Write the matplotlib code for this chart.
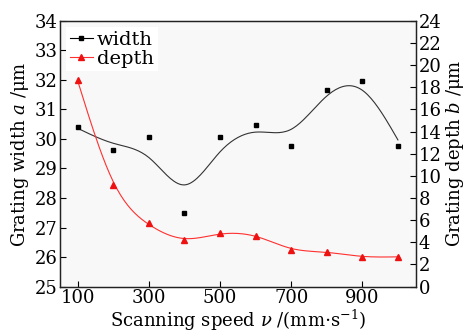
import numpy as np
import matplotlib
matplotlib.use("Agg")
from matplotlib import pyplot as plt

# data
speed = [100, 200, 300, 400, 500, 600, 700, 800, 900, 1000]
width = [30.4, 29.62, 30.05, 27.5, 30.05, 30.48, 29.75, 31.65, 31.97, 29.75]
depth = [18.7, 9.2, 5.75, 4.25, 4.8, 4.6, 3.35, 3.15, 2.7, 2.7]

plt.rcParams['font.family'] = ['DejaVu Serif']
plt.rcParams['mathtext.fontset'] = 'dejavuserif'


def smooth_curve(x, y, lam, step=5):
    # penalized least squares on a fine grid (discrete smoothing spline)
    x = np.asarray(x, float)
    y = np.asarray(y, float)
    grid = np.arange(x[0], x[-1] + step, step)
    n = len(grid)
    W = np.zeros((n, n))
    rhs = np.zeros(n)
    for xi, yi in zip(x, y):
        k = int(round((xi - x[0]) / step))
        W[k, k] += 1
        rhs[k] += yi
    D = np.diff(np.eye(n), 2, axis=0)
    A = W + lam * D.T @ D
    return grid, np.linalg.solve(A, rhs)


fig = plt.figure(figsize=(4.65, 3.36), dpi=100)
ax = fig.add_axes([0.129, 0.147, 0.765, 0.791])
ax.set_facecolor('#f8f8f8')
ax2 = ax.twinx()

gx, gw = smooth_curve(speed, width, 700)
gx2, gd = smooth_curve(speed, depth, 150)

ax.plot(gx, gw, color='#333333', lw=0.8)
ax.plot(speed, width, ls='none', marker='s', ms=3.5, color='black')
ax2.plot(gx2, gd, color='#ff3030', lw=0.8)
ax2.plot(speed, depth, ls='none', marker='^', ms=4.5, color='#ee1111')

# legend handles
h1, = ax.plot([], [], color='black', lw=0.8, marker='s', ms=3.5)
h2, = ax.plot([], [], color='#ff3030', lw=0.8, marker='^', ms=4.5, mfc='#ee1111', mec='#ee1111')
leg = ax.legend([h1, h2], ['width', 'depth'], loc='upper left', fontsize=14,
                frameon=True, fancybox=False, edgecolor='none', facecolor='white',
                framealpha=1, handlelength=1.2, handletextpad=0.2,
                borderaxespad=0.3, labelspacing=0.05, borderpad=0.2)

ax.set_xlim(50, 1050)
ax.set_ylim(25, 34)
ax2.set_ylim(0, 24)
ax.set_xticks([100, 300, 500, 700, 900])
ax.set_yticks(np.arange(25, 35, 1))
ax2.set_yticks(np.arange(0, 25, 2))

for a in (ax, ax2):
    a.tick_params(direction='in', labelsize=13, length=4, width=0.8, pad=2)
    for s in a.spines.values():
        s.set_linewidth(0.9)
        s.set_color('#222222')

ax.set_xlabel(r'Scanning speed $\nu$ /(mm$\cdot$s$^{-1}$)', fontsize=13, labelpad=0)
ax.set_ylabel(r'Grating width $a$ /$\mathrm{\mu}$m', fontsize=13, labelpad=2)
ax2.set_ylabel(r'Grating depth $b$ /$\mathrm{\mu}$m', fontsize=13, labelpad=2)

fig.savefig('out.png', dpi=100)
